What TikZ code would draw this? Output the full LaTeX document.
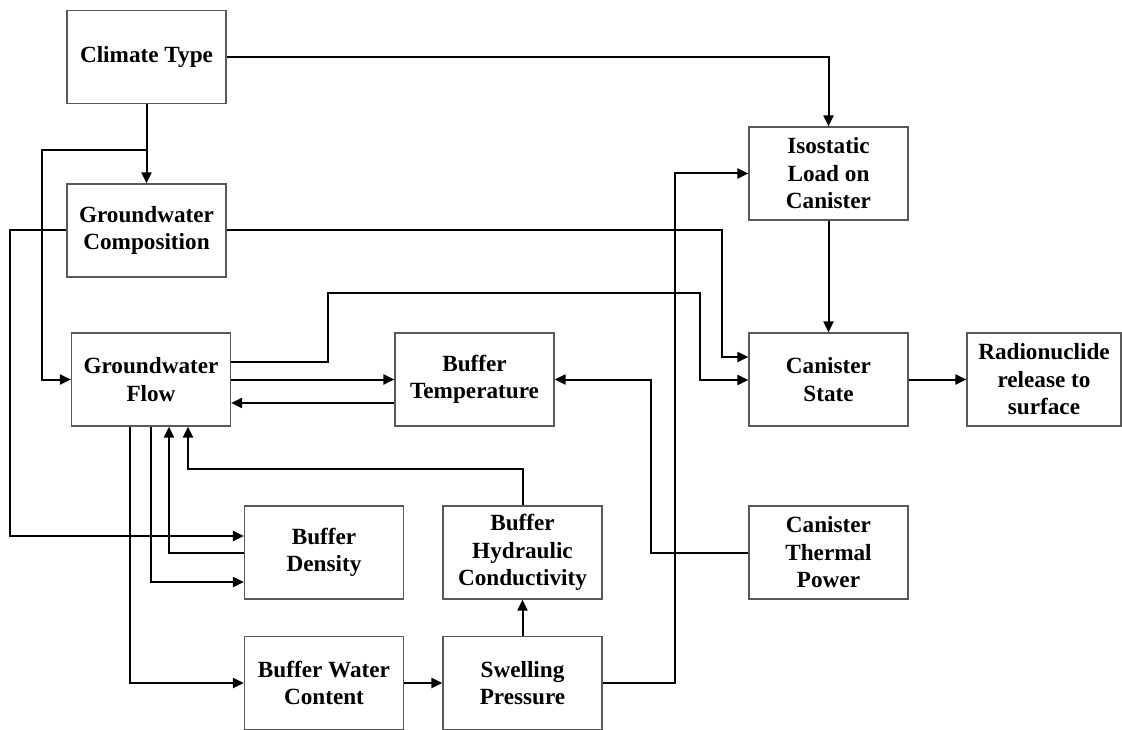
\documentclass[tikz,border=0pt]{standalone}
\usepackage{fontspec}
\setmainfont{Liberation Serif}
\usetikzlibrary{arrows.meta,calc}
\begin{document}
\begin{tikzpicture}[x=1pt,y=-1pt,
  box/.style={draw=black!65, line width=1.2pt, fill=white, rectangle,
    minimum width=159pt, minimum height=93pt, inner sep=2pt, align=center,
    font=\fontsize{23.2}{27.5}\selectfont\bfseries},
  arr/.style={draw=black, line width=2pt, -{Triangle[length=11pt,width=10pt]}}]
\useasboundingbox[fill=white] (0,0) rectangle (1122,730);
% nodes
\node[box] (climate) at (146.5,57) {Climate Type};
\node[box] (gwc) at (146.5,230.5) {Groundwater\\Composition};
\node[box] (gwf) at (151,379.5) {Groundwater\\Flow};
\node[box] (btemp) at (474.5,379.5) {Buffer\\Temperature};
\node[box] (bdens) at (324,552.5) {Buffer\\Density};
\node[box] (bhyd) at (522.5,552.5) {Buffer\\Hydraulic\\Conductivity};
\node[box] (bwc) at (324,683) {Buffer Water\\Content};
\node[box] (swell) at (522.5,683) {Swelling\\Pressure};
\node[box] (iso) at (828.5,173.5) {Isostatic\\Load on\\Canister};
\node[box] (cstate) at (828.5,379.5) {Canister\\State};
\node[box, minimum width=154pt] (radio) at (1044,379.5) {Radionuclide\\release to\\surface};
\node[box] (ctp) at (828.5,552.5) {Canister\\Thermal\\Power};
% connectors
\draw[arr] (climate.east) -| (iso.north);
\draw[arr] (climate.south) -- (gwc.north);
\draw[arr] (climate.south |- 0,150) -| (42,379.5) -- (gwf.west);
\draw[arr] (gwc.east) -| (722,357) -- (cstate.west |- 0,357);
\draw[arr] (gwc.west) -| (10,536) -- (bdens.west |- 0,536);
\draw[arr] (gwf.east |- 0,362) -| (328,293) -| (700,380) -- (cstate.west |- 0,380);
\draw[arr] (gwf.east) -- (btemp.west);
\draw[arr] (btemp.west |- 0,403) -- (gwf.east |- 0,403);
\draw[arr] (ctp.west) -| (651,379.5) -- (btemp.east);
\draw[arr] (gwf.south -| 130,0) |- (bwc.west);
\draw[arr] (gwf.south -| 151,0) |- (bdens.west |- 0,582);
\draw[arr] (bdens.west) -| (gwf.south -| 169,0);
\draw[arr] (bhyd.north) |- (188,469) -- (gwf.south -| 188,0);
\draw[arr] (bwc.east) -- (swell.west);
\draw[arr] (swell.north) -- (bhyd.south);
\draw[arr] (swell.east) -| (675,173.5) -- (iso.west);
\draw[arr] (iso.south) -- (cstate.north);
\draw[arr] (cstate.east) -- (radio.west);
\end{tikzpicture}
\end{document}
